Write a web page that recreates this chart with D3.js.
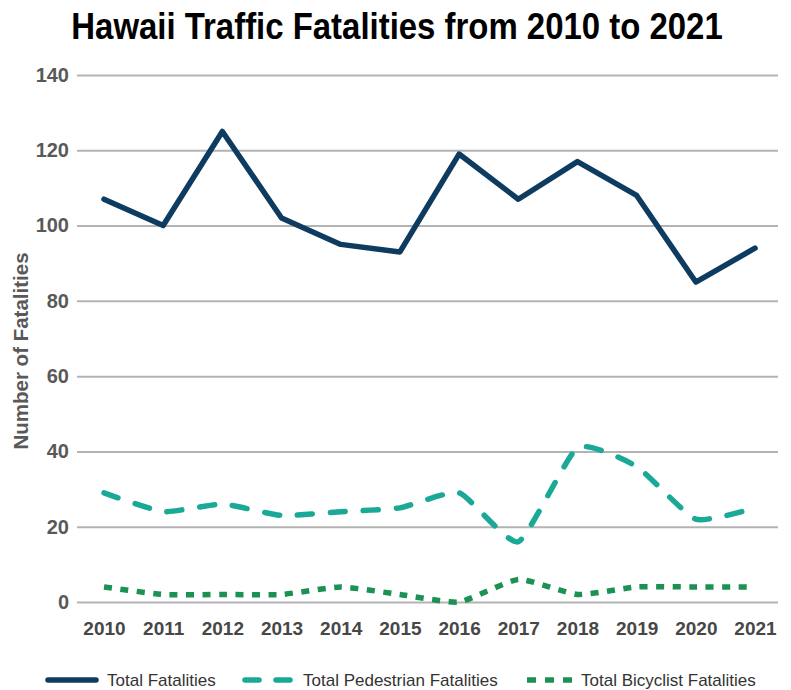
<!DOCTYPE html>
<html><head><meta charset="utf-8">
<script src="https://cdn.jsdelivr.net/npm/d3@7"></script>
<style>body{margin:0;background:#fff}</style>
</head><body>
<svg id="chart" width="791" height="690"></svg>
<script>
const years = ["2010","2011","2012","2013","2014","2015","2016","2017","2018","2019","2020","2021"];
const totalFatalities = [107,100,125,102,95,93,119,107,117,108,85,94];
const pedestrianFatalities = [29,24,26,23,24,25,29,16,41,36,22,25];
const bicyclistFatalities = [4,2,2,2,4,2,0,6,2,4,4,4];
const yTicks = [0,20,40,60,80,100,120,140];
const seriesNames = ["Total Fatalities","Total Pedestrian Fatalities","Total Bicyclist Fatalities"];

(function(){
const svg = d3.select("#chart");
const mLeft = 77, mRight = 778, mTop = 75, mBottom = 602;
const x = d3.scalePoint().domain(years).range([104, 755]);
const y = d3.scaleLinear().domain([0,140]).range([mBottom, mTop]);

// title (horizontally condensed to mimic a narrow bold face)
svg.append("text").attr("transform","translate(397,39) scale(0.89,1)").attr("text-anchor","middle")
  .style("font-family","'Liberation Sans',Arial,sans-serif").style("font-weight","bold")
  .style("font-size","37px").attr("fill","#000").text("Hawaii Traffic Fatalities from 2010 to 2021");

// grid + y axis
const yAxis = d3.axisLeft(y).tickValues(yTicks).tickSize(-(mRight-mLeft)).tickPadding(8);
const gy = svg.append("g").attr("transform",`translate(${mLeft},0)`).call(yAxis);
gy.select(".domain").remove();
gy.selectAll(".tick line").attr("stroke","#b3b3b3").attr("stroke-width",2);
gy.selectAll(".tick text").attr("fill","#595959").style("font-family","'Liberation Sans',Arial,sans-serif")
  .style("font-weight","bold").style("font-size","20px");

// x axis
const xAxis = d3.axisBottom(x).tickSize(0).tickPadding(14);
const gx = svg.append("g").attr("transform",`translate(0,${mBottom+6})`).call(xAxis);
gx.select(".domain").remove();
gx.selectAll(".tick text").attr("fill","#474747").style("font-family","'Liberation Sans',Arial,sans-serif")
  .style("font-weight","bold").style("font-size","19px");

// y label
svg.append("text").attr("transform","translate(28,351) rotate(-90)").attr("text-anchor","middle")
  .attr("fill","#595959").style("font-family","'Liberation Sans',Arial,sans-serif")
  .style("font-weight","bold").style("font-size","20.5px").text("Number of Fatalities");

const styles = [
  {data: totalFatalities, color:"#0e3c61", dash:null, cap:"round", curve:d3.curveLinear},
  {data: pedestrianFatalities, color:"#1aa996", dash:"15,18", cap:"round", curve:d3.curveCardinal.tension(0.5)},
  {data: bicyclistFatalities, color:"#1b9153", dash:"8,8.5", cap:"butt", curve:d3.curveCardinal.tension(0.5)}
];

styles.forEach((s,i) => {
  const line = d3.line().x((d,j)=>x(years[j])).y(d=>y(d)).curve(s.curve);
  svg.append("path").datum(s.data).attr("d", line).attr("fill","none")
    .attr("stroke", s.color).attr("stroke-width", 5.5)
    .attr("stroke-linecap", s.cap).attr("stroke-linejoin","round")
    .attr("stroke-dasharray", s.dash);
});

// legend
const legendY = 680;
const legendItems = [
  {x1:48, x2:96, tx:107, dash:null},
  {x1:245, x2:290, tx:303, dash:"14,17"},
  {x1:527, x2:575, tx:581, dash:"9,9"}
];
legendItems.forEach((L,i) => {
  const s = styles[i];
  svg.append("line").attr("x1",L.x1).attr("x2",L.x2).attr("y1",legendY).attr("y2",legendY)
    .attr("stroke",s.color).attr("stroke-width",5.5).attr("stroke-linecap",s.cap)
    .attr("stroke-dasharray", L.dash);
  svg.append("text").attr("x",L.tx).attr("y",legendY+6).attr("fill","#333")
    .style("font-family","'Liberation Sans',Arial,sans-serif").style("font-size","17px").text(seriesNames[i]);
});
})();
</script>
</body></html>
